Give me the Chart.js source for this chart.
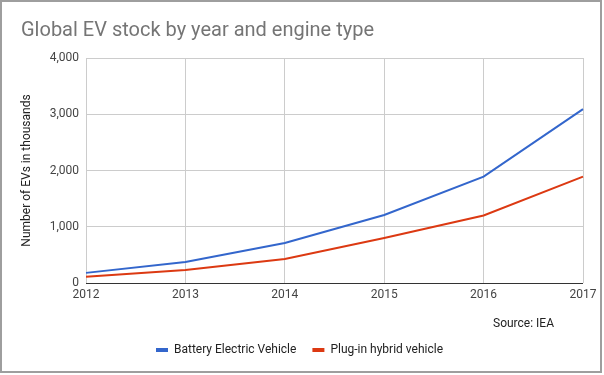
<!DOCTYPE html>
<html>
<head>
<meta charset="utf-8">
<script src="https://cdn.jsdelivr.net/npm/chart.js@4.4.1/dist/chart.umd.min.js"></script>
<style>
  html, body { margin: 0; padding: 0; background: #fff; }
  #wrap { width: 604px; height: 375px; position: relative; }
</style>
</head>
<body>
<div id="wrap"><canvas id="chart1" width="604" height="375"></canvas></div>
<script>
// data (ribuan kendaraan)
const years = ['2012', '2013', '2014', '2015', '2016', '2017'];
const batteryElectric = [180, 375, 710, 1210, 1890, 3090];
const pluginHybrid = [110, 230, 425, 800, 1200, 1890];
const yTicks = [0, 1000, 2000, 3000, 4000];

const FONT = 'Roboto, "Liberation Sans", sans-serif';

// judul, sumber dan bingkai digambar sendiri
const decor = {
  id: 'decor',
  afterDraw(chart) {
    const ctx = chart.ctx;
    ctx.save();
    ctx.strokeStyle = '#9e9e9e';
    ctx.lineWidth = 2;
    ctx.strokeRect(1, 1, 600, 371);
    ctx.fillStyle = '#757575';
    ctx.font = '20px ' + FONT;
    ctx.textBaseline = 'middle';
    ctx.textAlign = 'left';
    ctx.fillText('Global EV stock by year and engine type', 21, 31);
    ctx.fillStyle = '#222';
    ctx.font = '12px ' + FONT;
    ctx.fillText('Source: IEA', 493, 324);
    ctx.restore();
  }
};

const ctx = document.getElementById('chart1').getContext('2d');
new Chart(ctx, {
  type: 'line',
  data: {
    labels: years,
    datasets: [{
      label: 'Battery Electric Vehicle',
      data: batteryElectric,
      borderColor: '#3366cc',
      backgroundColor: '#3366cc',
      borderWidth: 2,
      pointRadius: 0,
      tension: 0
    }, {
      label: 'Plug-in hybrid vehicle',
      data: pluginHybrid,
      borderColor: '#dc3912',
      backgroundColor: '#dc3912',
      borderWidth: 2,
      pointRadius: 0,
      tension: 0
    }]
  },
  options: {
    responsive: false,
    animation: false,
    layout: { padding: { top: 58, left: 16, right: 21, bottom: 9 } },
    plugins: {
      tooltip: { enabled: false },
      legend: {
        position: 'bottom',
        labels: {
          color: '#222',
          font: { family: FONT, size: 12 },
          boxWidth: 12,
          boxHeight: 4,
          padding: 16,
          generateLabels(chart) {
            return chart.data.datasets.map((ds, i) => ({
              text: ds.label,
              fillStyle: ds.borderColor,
              strokeStyle: ds.borderColor,
              lineWidth: 0,
              fontColor: '#222',
              datasetIndex: i
            }));
          }
        }
      }
    },
    scales: {
      x: {
        offset: false,
        grid: { color: '#cccccc', drawTicks: false },
        border: { display: false },
        ticks: { color: '#444', font: { family: FONT, size: 12 }, padding: 5, maxRotation: 0 },
        afterFit(scale) { scale.height = 45; }
      },
      y: {
        min: 0,
        max: 4000,
        afterBuildTicks(scale) { scale.ticks = yTicks.map(v => ({ value: v })); },
        grid: {
          drawTicks: false,
          color: ctx => ctx.tick && ctx.tick.value === 0 ? '#333333' : '#cccccc'
        },
        border: { display: false },
        ticks: {
          color: '#444',
          padding: 7,
          font: { family: FONT, size: 12 },
          callback: v => v.toLocaleString('en-US')
        },
        title: {
          display: true,
          text: 'Number of EVs in thousands',
          color: '#222',
          font: { family: FONT, size: 12 },
          padding: { top: 4, bottom: 4 }
        },
        afterFit(scale) { scale.width = 70; }
      }
    }
  },
  plugins: [decor]
});
</script>
</body>
</html>
